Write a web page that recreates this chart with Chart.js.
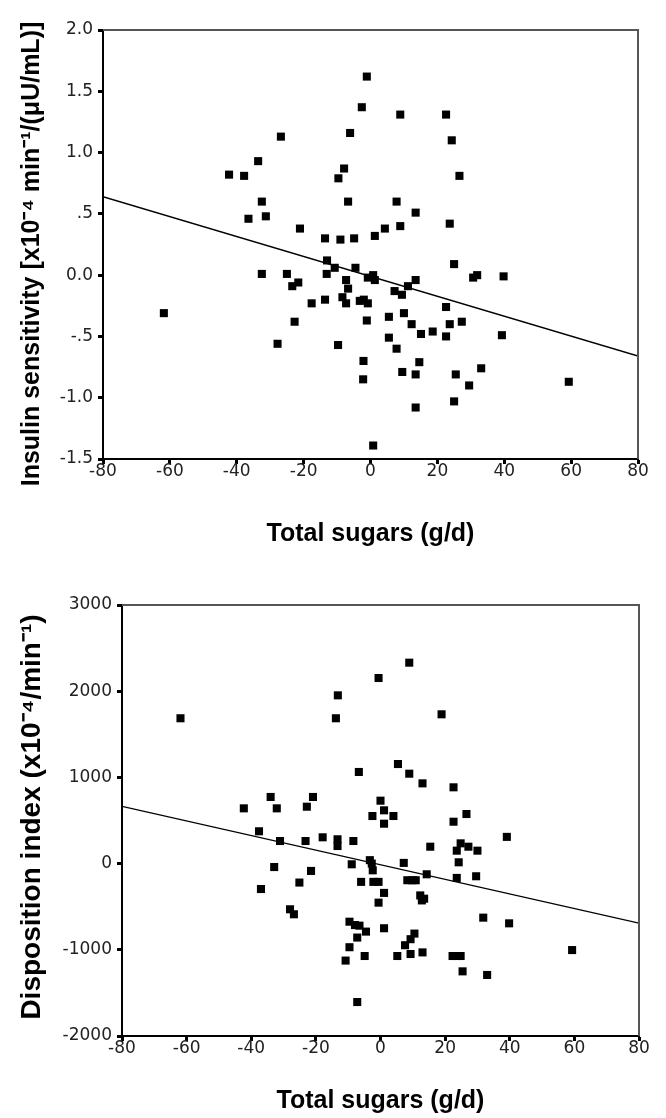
<!DOCTYPE html>
<html>
<head>
<meta charset="utf-8">
<script src="https://cdn.jsdelivr.net/npm/chart.js@4.4.1/dist/chart.umd.min.js"></script>
<style>
  html, body { margin: 0; padding: 0; background: #fff; }
  .panel { position: absolute; left: 0; width: 666px; }
</style>
</head>
<body>
<div class="panel" style="top: 0;"><canvas id="isChart" width="666" height="560"></canvas></div>
<div class="panel" style="top: 560px;"><canvas id="diChart" width="666" height="558"></canvas></div>
<script>
// --- top panel: insulin sensitivity vs total sugars ---
const sugarIS = [
  -42.3, -37.8, -33.6, -26.8, -32.5, -36.5, -31.3, -21.1, -13.6, -9.0,
  -4.9, -13.0, -10.7, -4.5, -1.1, -2.6, -6.1, -7.9, -9.6, -6.7,
  8.9, 22.6, 24.3, 26.6, 7.8, 13.5, 8.9, 4.3, 1.3, 23.7,
  25.0, -61.8, -32.5, -25.0, -23.4, -21.6, -22.7, -27.8, -17.6, -13.6,
  -13.1, -7.3, -6.7, -8.4, -7.3, -3.2, -2.0, -0.8, -1.1, -9.7,
  -2.1, -2.2, -0.8, 0.8, 1.3, 30.7, 31.9, 39.8, 13.5, 11.2,
  7.2, 9.4, 5.5, 10.0, 12.3, 15.1, 18.6, 22.6, 23.7, 27.3,
  22.6, 5.5, 7.8, 39.3, 14.6, 9.5, 13.5, 25.5, 33.1, 29.5,
  59.3, 25.0, 13.5, 0.8
];
const insulinSens = [
  0.82, 0.81, 0.93, 1.13, 0.60, 0.46, 0.48, 0.38, 0.30, 0.29,
  0.30, 0.12, 0.06, 0.06, 1.62, 1.37, 1.16, 0.87, 0.79, 0.60,
  1.31, 1.31, 1.10, 0.81, 0.60, 0.51, 0.40, 0.38, 0.32, 0.42,
  0.09, -0.31, 0.01, 0.01, -0.09, -0.06, -0.38, -0.56, -0.23, -0.20,
  0.01, -0.04, -0.11, -0.18, -0.23, -0.21, -0.20, -0.23, -0.37, -0.57,
  -0.70, -0.85, -0.02, 0.00, -0.04, -0.02, 0.00, -0.01, -0.04, -0.09,
  -0.13, -0.16, -0.34, -0.31, -0.40, -0.48, -0.46, -0.26, -0.40, -0.38,
  -0.50, -0.51, -0.60, -0.49, -0.71, -0.79, -0.81, -0.81, -0.76, -0.90,
  -0.87, -1.03, -1.08, -1.39
];
const isFitY = [0.64, -0.66];
const isTicks = [-1.5, -1, -0.5, 0, 0.5, 1, 1.5, 2];
const isTickLabels = ['-1.5', '-1.0', '-.5', '0.0', '.5', '1.0', '1.5', '2.0'];

// --- bottom panel: disposition index vs total sugars ---
const sugarDI = [
  -61.9, -13.2, -13.8, -6.7, -42.3, -34.0, -32.1, -22.8, -20.9, -37.6,
  8.9, -0.6, 18.9, 5.4, 8.9, 13.0, 22.6, 0.0, 1.1, -2.5,
  4.0, 1.1, 22.6, 26.6, 39.1, -31.1, -23.2, -17.9, -13.3, -13.3,
  -8.4, -32.9, -37.0, -21.5, -25.1, -28.0, -26.8, -8.9, -6.0, -3.3,
  -9.6, -7.9, -6.5, -4.5, -7.2, -9.6, -10.8, -4.9, -7.2, 15.4,
  23.6, 24.8, 27.2, 30.0, 24.2, -2.7, -2.4, 7.2, 14.3, 23.6,
  29.6, -2.2, -0.6, 8.3, 9.9, 10.9, 1.1, -0.6, 12.3, 12.8,
  13.5, 1.1, 10.5, 9.3, 7.6, 5.2, 9.3, 13.0, 22.3, 23.6,
  24.8, 25.4, 33.0, 31.8, 39.8, 59.3
];
const dispIndex = [
  1686, 1952, 1686, 1063, 641, 773, 641, 660, 773, 375,
  2331, 2153, 1732, 1155, 1043, 931, 885, 730, 618, 552,
  552, 463, 486, 575, 310, 262, 262, 305, 282, 204,
  262, -40, -295, -85, -220, -530, -588, -8, -212, 40,
  -674, -713, -720, -789, -858, -970, -1125, -1072, -1606, 196,
  150, 235, 196, 150, 15, 0, -78, 8, -124, -166,
  -147, -212, -212, -193, -193, -193, -340, -453, -369, -427,
  -407, -750, -812, -877, -947, -1072, -1049, -1030, -1072, -1072,
  -1072, -1250, -1292, -627, -693, -1003
];
const diFitY = [665, -690];
const diTicks = [-2000, -1000, 0, 1000, 2000, 3000];
const diTickLabels = ['-2000', '-1000', '0', '1000', '2000', '3000'];

// shared x axis
const fitX = [-80, 80];
const sugarTicks = [-80, -60, -40, -20, 0, 20, 40, 60, 80];

// draws the grey top/right frame and the bold axis titles
const frameAndTitles = {
  id: 'frameAndTitles',
  afterDraw(chart, args, opts) {
    const { ctx, chartArea: a } = chart;
    ctx.save();
    ctx.strokeStyle = '#555';
    ctx.lineWidth = 2;
    ctx.beginPath();
    ctx.moveTo(a.left, a.top);
    ctx.lineTo(a.right, a.top);
    ctx.lineTo(a.right, a.bottom);
    ctx.stroke();

    ctx.fillStyle = '#000';
    ctx.textAlign = 'center';
    ctx.textBaseline = 'alphabetic';
    ctx.font = 'bold 25px "Liberation Sans", Arial, sans-serif';
    ctx.fillText(opts.xTitle, (a.left + a.right) / 2, opts.xTitleY);
    ctx.font = 'bold ' + opts.yTitleSize + 'px "Liberation Sans", Arial, sans-serif';
    ctx.translate(opts.yTitleX, opts.yTitleY);
    ctx.rotate(-Math.PI / 2);
    ctx.fillText(opts.yTitle, 0, 0);
    ctx.restore();
  }
};

function makeChart(id, xs, ys, fitY, yTicks, yLabels, box, titles) {
  const ctx = document.getElementById(id).getContext('2d');
  const tickFont = { family: '"DejaVu Sans", sans-serif', size: 17 };
  return new Chart(ctx, {
    type: 'scatter',
    data: {
      datasets: [
        {
          data: xs.map((x, i) => ({ x: x, y: ys[i] })),
          pointStyle: 'rect',
          pointRadius: 5.7,
          backgroundColor: '#000',
          borderWidth: 0
        },
        {
          type: 'line',
          data: fitX.map((x, i) => ({ x: x, y: fitY[i] })),
          borderColor: '#000',
          borderWidth: 1.3,
          pointRadius: 0,
          fill: false
        }
      ]
    },
    options: {
      responsive: false,
      animation: false,
      devicePixelRatio: 1,
      layout: { padding: { left: 0, right: box.right, top: box.top, bottom: 0 } },
      plugins: {
        legend: { display: false },
        tooltip: { enabled: false },
        frameAndTitles: titles
      },
      scales: {
        x: {
          type: 'linear',
          min: -80,
          max: 80,
          afterBuildTicks: s => { s.ticks = sugarTicks.map(v => ({ value: v })); },
          afterFit: s => { s.height = box.xHeight; },
          ticks: { font: tickFont, color: '#222', padding: -3, maxRotation: 0 },
          grid: { drawOnChartArea: false, drawTicks: true, tickLength: 5, tickWidth: 3, tickColor: '#000' },
          border: { display: true, color: '#000', width: 2 }
        },
        y: {
          type: 'linear',
          min: yTicks[0],
          max: yTicks[yTicks.length - 1],
          afterBuildTicks: s => { s.ticks = yTicks.map(v => ({ value: v })); },
          afterFit: s => { s.width = box.yWidth; },
          ticks: { font: tickFont, color: '#222', padding: 5, callback: (v, i) => yLabels[i] },
          grid: { drawOnChartArea: false, drawTicks: true, tickLength: 5, tickWidth: 3, tickColor: '#000' },
          border: { display: true, color: '#000', width: 2 }
        }
      }
    },
    plugins: [frameAndTitles]
  });
}

makeChart('isChart', sugarIS, insulinSens, isFitY, isTicks, isTickLabels,
  { right: 28, top: 30, xHeight: 101, yWidth: 103 },
  { xTitle: 'Total sugars (g/d)', xTitleY: 541,
    yTitle: 'Insulin sensitivity [x10\u207B\u2074 min\u207B\u00B9/(\u03BCU/mL)]',
    yTitleSize: 25, yTitleX: 39, yTitleY: 254 });

makeChart('diChart', sugarDI, dispIndex, diFitY, diTicks, diTickLabels,
  { right: 27, top: 45, xHeight: 82, yWidth: 122 },
  { xTitle: 'Total sugars (g/d)', xTitleY: 548,
    yTitle: 'Disposition index (x10\u207B\u2074/min\u207B\u00B9)',
    yTitleSize: 28, yTitleX: 40, yTitleY: 257 });
</script>
</body>
</html>
